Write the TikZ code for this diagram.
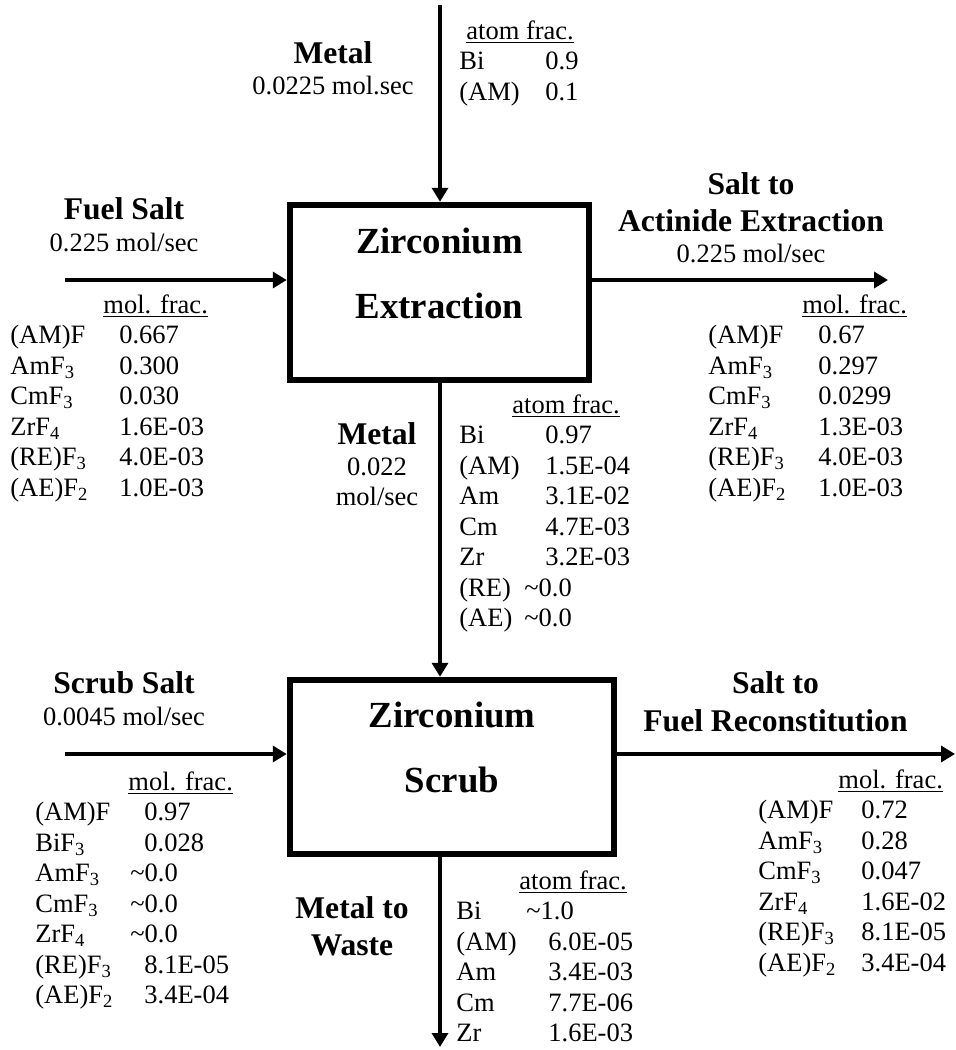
\documentclass[tikz,border=0pt]{standalone}
\usepackage{fontspec}
\setmainfont{Liberation Serif}
\usepackage{tikz}
\usetikzlibrary{arrows.meta}

\newcommand{\hd}[1]{{\fontsize{15.8}{18}\selectfont\bfseries #1}}
\newcommand{\fracul}[1]{\setbox0\hbox{#1}\rlap{\rule[-2.2pt]{\wd0}{0.9pt}}\box0}
\newcommand{\fhead}[2]{\multicolumn{2}{@{}l@{}}{\hspace*{#1}\fracul{#2}}}
\newcommand{\tl}[1]{\hspace*{#1}\textasciitilde}

\tikzset{
    proc/.style={rectangle,draw=black,line width=3.25pt,inner sep=0pt,text height=0pt,
        font=\fontsize{18.4}{32.5}\selectfont\bfseries},
    flow/.style={-{Triangle[length=7pt,width=8pt]},line width=2.2pt},
    lbl/.style={anchor=base,inner sep=0pt,font=\fontsize{13.25}{15.5}\selectfont},
    tbl/.style={anchor=base west,inner sep=0pt,font=\fontsize{13.25}{15.25}\selectfont}
}

\begin{document}
\begin{tikzpicture}[x=0.5pt,y=-0.5pt]
    \useasboundingbox (0,0) rectangle (956,1050);
    \node (EXT) at (439.5,292.5) [proc,minimum width=149.5pt,minimum height=87.5pt,text depth=39.5pt]
        {\begin{tabular}[t]{@{}c@{}}Zirconium\\Extraction\end{tabular}};
    \node (SCR) at (452,767) [proc,minimum width=162pt,minimum height=87pt,text depth=40pt]
        {\begin{tabular}[t]{@{}c@{}}Zirconium\\Scrub\end{tabular}};

    \node (METL) at (333,63) [lbl] {\begin{tabular}[t]{@{}c@{}}\hd{Metal}\\0.0225 mol.sec\end{tabular}};
    \node (FEEDL) at (124,219) [lbl] {\begin{tabular}[t]{@{}c@{}}\hd{Fuel Salt}\\[0.5pt]0.225 mol/sec\end{tabular}};
    \node (ACTL) at (751,194) [lbl] {\begin{tabular}[t]{@{}c@{}}\hd{Salt to}\\[3pt]\hd{Actinide Extraction}\\0.225 mol/sec\end{tabular}};
    \node (MIDL) at (377,444) [lbl] {\begin{tabular}[t]{@{}c@{}}\hd{Metal}\\0.022\\[-0.5pt]mol/sec\end{tabular}};
    \node (SCRL) at (124,693) [lbl] {\begin{tabular}[t]{@{}c@{}}\hd{Scrub Salt}\\[0.5pt]0.0045 mol/sec\end{tabular}};
    \node (RECL) at (775.5,693) [lbl] {\begin{tabular}[t]{@{}c@{}}\hd{Salt to}\\[3.5pt]\hd{Fuel Reconstitution}\end{tabular}};
    \node (WSTL) at (352,918) [lbl] {\begin{tabular}[t]{@{}c@{}}\hd{Metal to}\\[3pt]\hd{Waste}\end{tabular}};

    \node (METT) at (459,39) [tbl] {\begin{tabular}[t]{@{}p{43pt}@{}l@{}}
        \fhead{3.5pt}{atom frac.}\\
        Bi & 0.9\\
        (AM) & 0.1
        \end{tabular}};
    \node (FEEDT) at (10,313) [tbl] {\begin{tabular}[t]{@{}p{54.5pt}@{}l@{}}
        \fhead{46.5pt}{mol. frac.}\\
        (AM)F & 0.667\\
        AmF\textsubscript{3} & 0.300\\
        CmF\textsubscript{3} & 0.030\\
        ZrF\textsubscript{4} & 1.6E-03\\
        (RE)F\textsubscript{3} & 4.0E-03\\
        (AE)F\textsubscript{2} & 1.0E-03
        \end{tabular}};
    \node (ACTT) at (708,313) [tbl] {\begin{tabular}[t]{@{}p{55pt}@{}l@{}}
        \fhead{47pt}{mol. frac.}\\
        (AM)F & 0.67\\
        AmF\textsubscript{3} & 0.297\\
        CmF\textsubscript{3} & 0.0299\\
        ZrF\textsubscript{4} & 1.3E-03\\
        (RE)F\textsubscript{3} & 4.0E-03\\
        (AE)F\textsubscript{2} & 1.0E-03
        \end{tabular}};
    \node (MIDT) at (459,413) [tbl] {\begin{tabular}[t]{@{}p{43pt}@{}l@{}}
        \fhead{26.5pt}{atom frac.}\\
        Bi & 0.97\\
        (AM) & 1.5E-04\\
        Am & 3.1E-02\\
        Cm & 4.7E-03\\
        Zr & 3.2E-03\\
        (RE) & \tl{-10.5pt}0.0\\
        (AE) & \tl{-10.5pt}0.0
        \end{tabular}};
    \node (SCRT) at (35,790) [tbl] {\begin{tabular}[t]{@{}p{54.5pt}@{}l@{}}
        \fhead{46.5pt}{mol. frac.}\\
        (AM)F & 0.97\\
        BiF\textsubscript{3} & 0.028\\
        AmF\textsubscript{3} & \tl{-7pt}0.0\\
        CmF\textsubscript{3} & \tl{-7pt}0.0\\
        ZrF\textsubscript{4} & \tl{-7pt}0.0\\
        (RE)F\textsubscript{3} & 8.1E-05\\
        (AE)F\textsubscript{2} & 3.4E-04
        \end{tabular}};
    \node (WSTT) at (456,889) [tbl] {\begin{tabular}[t]{@{}p{46pt}@{}l@{}}
        \fhead{31.5pt}{atom frac.}\\
        Bi & \tl{-11pt}1.0\\
        (AM) & 6.0E-05\\
        Am & 3.4E-03\\
        Cm & 7.7E-06\\
        Zr & 1.6E-03
        \end{tabular}};
    \node (RECT) at (758,788) [tbl] {\begin{tabular}[t]{@{}p{51.5pt}@{}l@{}}
        \fhead{40pt}{mol. frac.}\\
        (AM)F & 0.72\\
        AmF\textsubscript{3} & 0.28\\
        CmF\textsubscript{3} & 0.047\\
        ZrF\textsubscript{4} & 1.6E-02\\
        (RE)F\textsubscript{3} & 8.1E-05\\
        (AE)F\textsubscript{2} & 3.4E-04
        \end{tabular}};

    \coordinate (MTOP) at (440,5);
    \coordinate (WBOT) at (440,1047);
    \coordinate (FIN) at (65,280);
    \coordinate (AOUT) at (888,280);
    \coordinate (SIN) at (65,754);
    \coordinate (FOUT) at (955,754);
    \draw[flow] (MTOP) -- (MTOP |- EXT.north);
    \draw[flow] (EXT.south -| MTOP) -- (SCR.north -| MTOP);
    \draw[flow] (SCR.south -| MTOP) -- (WBOT);
    \draw[flow] (FIN) -- (FIN -| EXT.west);
    \draw[flow] (AOUT -| EXT.east) -- (AOUT);
    \draw[flow] (SIN) -- (SIN -| SCR.west);
    \draw[flow] (FOUT -| SCR.east) -- (FOUT);
\end{tikzpicture}
\end{document}
